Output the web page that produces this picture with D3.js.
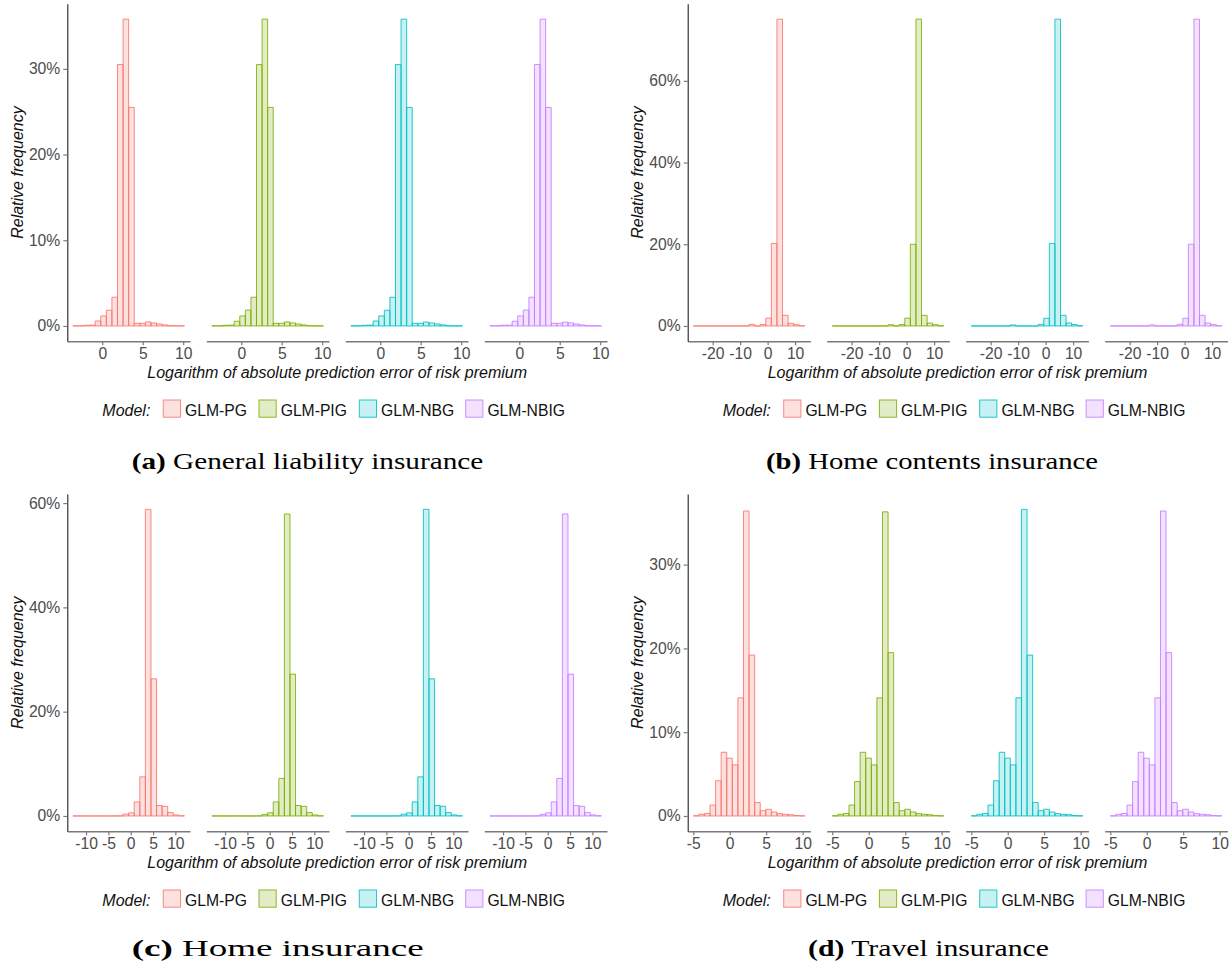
<!DOCTYPE html>
<html><head><meta charset="utf-8">
<script src="https://cdn.jsdelivr.net/npm/d3@7"></script>
<style>body{margin:0;background:#fff}svg{display:block}</style>
</head><body>
<svg id="c" width="1231" height="964"></svg>
<script>
// ---------- data ----------
const models = ["GLM-PG", "GLM-PIG", "GLM-NBG", "GLM-NBIG"];
const colors = ["#F8766D", "#7CAE00", "#00BFC4", "#C77CFF"];

// (a) General liability insurance: 20 bins, relative frequency in %
const liabilityBin = [-3.63, 0.689];           // first bin start, bin width
const liabilityPG   = [0.02,0.02,0.08,0.10,0.58,1.17,1.83,3.35,30.5,35.8,25.5,0.31,0.31,0.47,0.35,0.23,0.12,0.03,0.01,0.01];
const liabilityPIG  = [0.02,0.02,0.08,0.10,0.55,1.17,1.85,3.35,30.5,35.8,25.5,0.31,0.31,0.47,0.35,0.23,0.12,0.03,0.01,0.01];
const liabilityNBG  = [0.02,0.02,0.08,0.10,0.58,1.17,1.83,3.35,30.5,35.8,25.5,0.31,0.31,0.45,0.35,0.23,0.12,0.03,0.01,0.01];
const liabilityNBIG = [0.02,0.02,0.08,0.10,0.55,1.17,1.85,3.35,30.5,35.8,25.5,0.31,0.31,0.45,0.35,0.23,0.12,0.03,0.01,0.01];
const liabilityTicksX = [0, 5, 10];
const liabilityTicksY = [0, 10, 20, 30];

// (b) Home contents insurance
const contentsBin = [-27.06, 2.03];
const contentsPG   = [0,0,0,0,0,0,0,0,0,0,0.4,0,0.35,1.9,20.2,75.1,2.6,0.65,0.3,0.05];
const contentsPIG  = [0,0,0,0,0,0,0,0,0,0,0.3,0,0.35,1.9,20.0,75.1,2.6,0.7,0.3,0.05];
const contentsNBG  = [0,0,0,0,0,0,0,0.25,0,0,0,0,0.4,1.88,20.2,75.1,2.6,0.73,0.33,0.05];
const contentsNBIG = [0,0,0,0,0,0,0,0.25,0,0,0,0,0.4,1.88,20.0,75.1,2.6,0.73,0.33,0.05];
const contentsTicksX = [-20, -10, 0, 10];
const contentsTicksY = [0, 20, 40, 60];

// (c) Home insurance
const homeBin = [-12.95, 1.249];
const homePG   = [0,0,0,0,0,0,0,0,0.02,0.35,0.6,2.7,7.5,58.8,26.3,2.0,1.85,0.65,0.2,0.03];
const homePIG  = [0,0,0,0,0,0,0,0,0.02,0.3,0.6,2.7,7.2,57.9,27.2,2.0,1.85,0.65,0.2,0.03];
const homeNBG  = [0,0,0,0,0,0,0,0,0.02,0.35,0.6,2.7,7.5,58.8,26.3,2.0,1.85,0.65,0.2,0.03];
const homeNBIG = [0,0,0,0,0,0,0,0,0.02,0.3,0.6,2.7,7.2,57.9,27.2,2.0,1.85,0.65,0.2,0.03];
const homeTicksX = [-10, -5, 0, 5, 10];
const homeTicksY = [0, 20, 40, 60];

// (d) Travel insurance
const travelBin = [-5.0, 0.765];
const travelPG   = [0.02,0.2,0.3,1.3,4.2,7.6,6.9,6.1,14.1,36.4,19.2,1.6,0.63,0.8,0.47,0.28,0.2,0.15,0.05,0.02];
const travelPIG  = [0.02,0.2,0.3,1.3,4.1,7.6,6.9,6.1,14.1,36.3,19.5,1.6,0.63,0.8,0.47,0.28,0.2,0.15,0.05,0.02];
const travelNBG  = [0.02,0.2,0.3,1.3,4.2,7.6,6.9,6.1,14.1,36.6,19.2,1.6,0.63,0.8,0.47,0.28,0.2,0.15,0.05,0.02];
const travelNBIG = [0.02,0.2,0.3,1.3,4.1,7.6,6.9,6.1,14.1,36.4,19.5,1.6,0.63,0.8,0.47,0.28,0.2,0.15,0.05,0.02];
const travelTicksX = [-5, 0, 5, 10];
const travelTicksY = [0, 10, 20, 30];

const captions = [["(a)", "General liability insurance"], ["(b)", "Home contents insurance"],
                  ["(c)", "Home insurance"], ["(d)", "Travel insurance"]];
const xTitle = "Logarithm of absolute prediction error of risk premium";
const yTitle = "Relative frequency";

// ---------- layout ----------
const panels = [
  {bin: liabilityBin, series: [liabilityPG, liabilityPIG, liabilityNBG, liabilityNBIG], tx: liabilityTicksX, ty: liabilityTicksY,
   left: 67.3, top: 3.8, bottom: 341.3, cap: captions[0], capX: 131.7, capW: 351.6, capY: 468.5},
  {bin: contentsBin, series: [contentsPG, contentsPIG, contentsNBG, contentsNBIG], tx: contentsTicksX, ty: contentsTicksY,
   left: 687.7, top: 3.8, bottom: 341.3, cap: captions[1], capX: 766, capW: 332, capY: 468.5},
  {bin: homeBin, series: [homePG, homePIG, homeNBG, homeNBIG], tx: homeTicksX, ty: homeTicksY,
   left: 67.3, top: 494, bottom: 831.3, cap: captions[2], capX: 131.7, capW: 292, capY: 956},
  {bin: travelBin, series: [travelPG, travelPIG, travelNBG, travelNBIG], tx: travelTicksX, ty: travelTicksY,
   left: 687.7, top: 494, bottom: 831.3, cap: captions[3], capX: 808, capW: 241, capY: 956}
];
const facetW = 122.7, facetStep = 139;
const sans = "'Liberation Sans', Arial, sans-serif";
const svg = d3.select("#c");

panels.forEach(p => {
  const g = svg.append("g");
  const nb = p.series[0].length;
  const x0 = p.bin[0], w = p.bin[1], span = nb * w;
  const ymax = d3.max(p.series, s => d3.max(s));
  const y = d3.scaleLinear().domain([-0.05 * ymax, 1.05 * ymax]).range([p.bottom, p.top]);

  p.series.forEach((vals, k) => {
    const fx = p.left + k * facetStep;
    const x = d3.scaleLinear().domain([x0 - 0.05 * span, x0 + 1.05 * span]).range([fx, fx + facetW]);
    const fg = g.append("g");
    fg.selectAll("path").data(vals).join("path")
      .attr("d", (d, i) => {
        const xa = x(x0 + i * w), xb = x(x0 + (i + 1) * w), ya = y(0), yb = y(d);
        return `M${xa},${ya}V${yb}H${xb}V${ya}Z`;
      })
      .attr("fill", colors[k]).attr("fill-opacity", 0.22)
      .attr("stroke", colors[k]).attr("stroke-opacity", 0.85).attr("stroke-width", 1);

    const ax = g.append("g").attr("transform", `translate(0,${p.bottom})`)
      .call(d3.axisBottom(x).tickValues(p.tx).tickSize(4).tickSizeOuter(0).tickPadding(3).tickFormat(d => String(d)));
    ax.select(".domain").attr("stroke", "#7a7a7a").attr("stroke-width", 1.6);
    ax.selectAll(".tick line").attr("stroke", "#7a7a7a").attr("stroke-width", 1.2);
    ax.selectAll(".tick text").attr("fill", "#4D4D4D").style("font", `15.7px ${sans}`);
  });

  const ay = g.append("g").attr("transform", `translate(${p.left},0)`)
    .call(d3.axisLeft(y).tickValues(p.ty).tickSize(4).tickSizeOuter(0).tickPadding(3).tickFormat(d => d + "%"));
  ay.select(".domain").attr("stroke", "#222").attr("stroke-width", 1.1);
  ay.selectAll(".tick line").attr("stroke", "#7a7a7a").attr("stroke-width", 1.2);
  ay.selectAll(".tick text").attr("fill", "#4D4D4D").style("font", `15.7px ${sans}`);

  // axis titles
  const cx = p.left + (3 * facetStep + facetW) / 2;
  g.append("text").attr("x", cx).attr("y", p.bottom + 36.4).attr("text-anchor", "middle")
    .style("font", `italic 16px ${sans}`).attr("fill", "#111").text(xTitle);
  g.append("text").attr("transform", `translate(${p.left - 44.3},${(p.top + p.bottom) / 2}) rotate(-90)`)
    .attr("text-anchor", "middle").style("font", `italic 16px ${sans}`).attr("fill", "#111").text(yTitle);

  // legend
  const ly = p.bottom + 58.7;
  const lg = g.append("g");
  lg.append("text").attr("x", p.left + 35).attr("y", ly + 16).style("font", `italic 16px ${sans}`).attr("fill", "#111").text("Model:");
  const keyOff = [96, 191.7, 292, 398.4];
  models.forEach((m, k) => {
    const kx = p.left + keyOff[k];
    lg.append("rect").attr("x", kx).attr("y", ly).attr("width", 17.2).attr("height", 17.2)
      .attr("fill", colors[k]).attr("fill-opacity", 0.22).attr("stroke", colors[k]).attr("stroke-opacity", 0.85);
    lg.append("text").attr("x", kx + 21.7).attr("y", ly + 16).style("font", `15.7px ${sans}`).attr("fill", "#111").text(m);
  });

  // caption
  const ct = g.append("text").attr("x", p.capX).attr("y", p.capY)
    .style("font", "23px 'Liberation Serif', 'DejaVu Serif', serif").attr("fill", "#000")
    .attr("textLength", p.capW).attr("lengthAdjust", "spacingAndGlyphs");
  ct.append("tspan").attr("font-weight", "bold").text(p.cap[0]);
  ct.append("tspan").text(" " + p.cap[1]);
});
</script>
</body></html>
